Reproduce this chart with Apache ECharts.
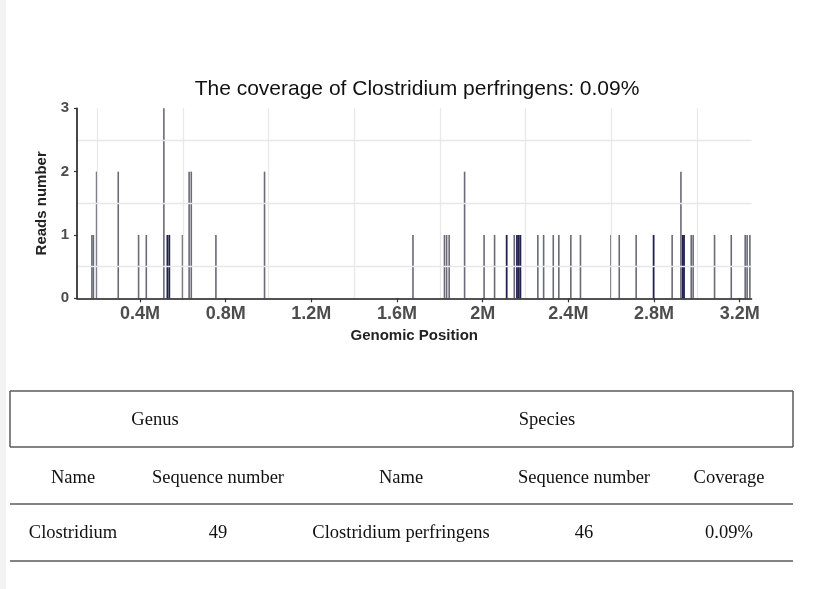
<!DOCTYPE html>
<html>
<head>
<meta charset="utf-8">
<script src="https://cdn.jsdelivr.net/npm/echarts@6/dist/echarts.min.js"></script>
<style>
html,body{margin:0;padding:0;background:#fff;}
#c{width:829px;height:589px;}
</style>
</head>
<body>
<div id="c"></div>
<script>
// ---- chart data (positions in Mb, reads number) ----
var greyPos = [0.176,0.183,0.198,0.299,0.394,0.430,0.512,0.599,0.630,0.640,0.755,0.982,1.675,1.822,1.832,1.844,1.916,2.007,2.056,2.148,2.258,2.285,2.330,2.356,2.412,2.457,2.599,2.638,2.717,2.885,2.926,2.974,2.983,3.083,3.161,3.226,3.235,3.248];
var greyReads = [1,1,2,2,1,1,3,1,2,2,1,2,1,1,1,1,2,1,1,1,1,1,1,1,1,1,1,1,1,1,2,1,1,1,1,1,1,1];
var darkPos = [0.528,0.537,2.112,2.160,2.168,2.176,2.798,2.934,2.940];
var darkReads = [1,1,1,1,1,1,1,1,1];
var xTicks = [0.4,0.8,1.2,1.6,2.0,2.4,2.8,3.2];
var yTicks = [0,1,2,3];
var xGrid = [0.2,0.6,1.0,1.4,1.8,2.2,2.6,3.0];
var yGrid = [0.5,1.5,2.5];
var titleText = 'The coverage of Clostridium perfringens: 0.09%';
// ---- table data ----
var groupHeaders = ['Genus','Species'];
var colHeaders = ['Name','Sequence number','Name','Sequence number','Coverage'];
var rowValues = ['Clostridium','49','Clostridium perfringens','46','0.09%'];

function pairs(xs, ys){ return xs.map(function(x,i){ return [x, ys[i]]; }); }

var chart = echarts.init(document.getElementById('c'), null, {renderer:'canvas'});

// table layout
var tblL = 10, tblR = 793;
var boxTop = 391, boxBot = 447, line2 = 504, line3 = 561;
var groupX = [155, 547];
var colX = [73, 218, 401, 584, 729];
var rowY = [420, 478, 533];
var lineColor = '#5a5a5a';
var serif = '"Liberation Serif","DejaVu Serif",serif';

var graphics = [
  {type:'rect', left:0, top:0, shape:{x:0,y:0,width:6,height:589}, style:{fill:'#f2f2f2'}, silent:true},
  {type:'line', shape:{x1:tblL,y1:boxTop,x2:tblR,y2:boxTop}, style:{stroke:lineColor,lineWidth:1.5}},
  {type:'line', shape:{x1:tblL,y1:boxTop,x2:tblL,y2:boxBot}, style:{stroke:lineColor,lineWidth:1.5}},
  {type:'line', shape:{x1:tblR,y1:boxTop,x2:tblR,y2:boxBot}, style:{stroke:lineColor,lineWidth:1.5}},
  {type:'line', shape:{x1:tblL,y1:boxBot,x2:tblR,y2:boxBot}, style:{stroke:lineColor,lineWidth:1.5}},
  {type:'line', shape:{x1:tblL,y1:line2,x2:tblR,y2:line2}, style:{stroke:lineColor,lineWidth:1.5}},
  {type:'line', shape:{x1:tblL,y1:line3,x2:tblR,y2:line3}, style:{stroke:lineColor,lineWidth:1.5}}
];
var cellFont = '18.5px ' + serif;
groupHeaders.forEach(function(t,i){
  graphics.push({type:'text', x:groupX[i], y:rowY[0], style:{text:t, fill:'#111', font:cellFont, textAlign:'center', textVerticalAlign:'middle'}});
});
colHeaders.forEach(function(t,i){
  graphics.push({type:'text', x:colX[i], y:rowY[1], style:{text:t, fill:'#111', font:cellFont, textAlign:'center', textVerticalAlign:'middle'}});
});
rowValues.forEach(function(t,i){
  graphics.push({type:'text', x:colX[i], y:rowY[2], style:{text:t, fill:'#111', font:cellFont, textAlign:'center', textVerticalAlign:'middle'}});
});

var sans = '"Liberation Sans", Arial, sans-serif';

chart.setOption({
  animation:false,
  backgroundColor:'#fff',
  title:{
    text:titleText, left:412, top:74, textAlign:'center',
    textStyle:{fontFamily:sans, fontSize:21, fontWeight:'normal', color:'#111'}
  },
  grid:{left:77, right:77.5, top:108.3, bottom:290.7, containLabel:false},
  xAxis:{
    type:'value', min:0.106, max:3.255, z:10,
    name:'Genomic Position', nameLocation:'middle', nameGap:30,
    nameTextStyle:{fontFamily:sans, fontSize:15, fontWeight:'bold', color:'#222'},
    axisLine:{show:true, onZero:false, lineStyle:{color:'#1a1a1a', width:1.6}},
    axisTick:{show:true, customValues:xTicks, length:4, lineStyle:{color:'#333', width:1.2}},
    axisLabel:{customValues:xTicks, margin:7, fontFamily:sans, fontSize:18, fontWeight:'bold', color:'#4d4d4d',
      formatter:function(v){ return (Math.round(v*10)/10) + 'M'; }},
    splitLine:{show:false}
  },
  yAxis:{
    type:'value', min:0, max:3, interval:1, z:10,
    name:'Reads number', nameLocation:'middle', nameGap:24, nameRotate:90,
    nameTextStyle:{fontFamily:sans, fontSize:15, fontWeight:'bold', color:'#222'},
    axisLine:{show:true, lineStyle:{color:'#1a1a1a', width:1.6}},
    axisTick:{show:true, customValues:yTicks, length:3, lineStyle:{color:'#333', width:1.2}},
    axisLabel:{customValues:yTicks, margin:8, fontFamily:sans, fontSize:15, fontWeight:'bold', color:'#4d4d4d'},
    splitLine:{show:false}
  },
  series:[
    {
      type:'line', data:[], z:1, silent:true, showSymbol:false,
      markLine:{
        silent:true, symbol:['none','none'], label:{show:false}, animation:false,
        lineStyle:{type:'solid', color:'#e8e8ec', width:1.3},
        data: xGrid.map(function(v){ return {xAxis:v}; }).concat(yGrid.map(function(v){ return {yAxis:v}; }))
      }
    },
    {
      type:'bar', name:'reads', z:3, barWidth:1.6, barGap:'-100%',
      itemStyle:{color:'#6a6a78'},
      data: pairs(greyPos, greyReads)
    },
    {
      type:'bar', name:'reads dense', z:4, barWidth:1.8, barGap:'-100%',
      itemStyle:{color:'#22224e'},
      data: pairs(darkPos, darkReads)
    }
  ],
  graphic: graphics
});
</script>
</body>
</html>
